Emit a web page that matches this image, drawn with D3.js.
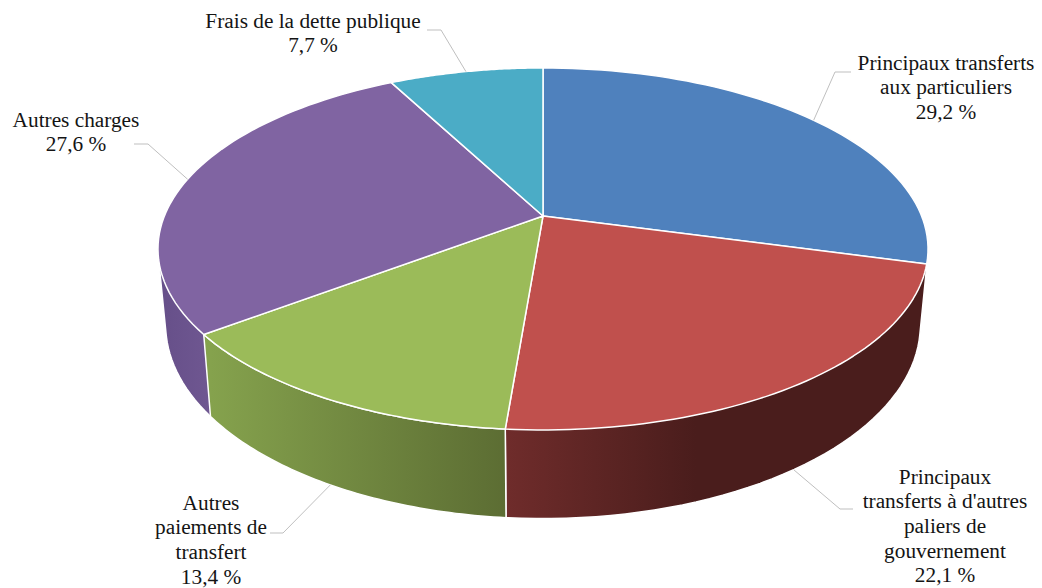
<!DOCTYPE html>
<html>
<head>
<meta charset="utf-8">
<script src="https://cdn.jsdelivr.net/npm/d3@7"></script>
<style>
  html, body { margin: 0; padding: 0; background: #fff; }
  svg { display: block; }
  text { font-family: "Liberation Serif", serif; font-size: 21.3px; fill: #141414; text-anchor: middle; }
</style>
</head>
<body>
<svg id="chart" width="1042" height="588"></svg>
<script>
// clockwise from 12 o'clock, same order as the source chart
var categories = [
  ["Principaux transferts", "aux particuliers"],
  ["Principaux", "transferts à d'autres", "paliers de", "gouvernement"],
  ["Autres", "paiements de", "transfert"],
  ["Autres charges"],
  ["Frais de la dette publique"]
];
var shares = [29.2, 22.1, 13.4, 27.6, 7.7];
var valueLabels = ["29,2 %", "22,1 %", "13,4 %", "27,6 %", "7,7 %"];
var colors = ["#4f81bd", "#c0504d", "#9bbb59", "#8064a2", "#4bacc6"];
var sideColors = [null, ["#6f2c2b", "#4a1d1c"], ["#85a24d", "#5c6d33"], ["#67508a", "#705892"], null];

var cx = 543, cy = 216;       // apex of the pie
var rimA = 378.6, rimB = 175; // circle radii before the perspective divide
var tilt = 0.182;             // perspective strength

// label centre x, first line centre y, leader elbow and end
var labelPos = [
  { x: 946, y: 63, elbow: [835, 72], end: [851, 72] },
  { x: 945, y: 477, elbow: [840, 509], end: [853, 509] },
  { x: 211, y: 503, elbow: [283, 533], end: [270, 533] },
  { x: 76, y: 120, elbow: [148, 144], end: [134, 144] },
  { x: 313, y: 21, elbow: [441, 30], end: [427, 30] }
];
var lineHeight = 24.6;

var svg = d3.select("#chart");
var defs = svg.append("defs");

var pie = d3.pie().sort(null).value(function (d) { return d; });
var arcs = pie(shares);

function topPoint(a) {
  var u = Math.sin(a), v = Math.cos(a);
  var d = 1 + tilt * v;
  return [cx + rimA * u / d, cy - rimB * v / d];
}

// lower rim: a bit narrower, a bit deeper than the top one
function lowPoint(a) {
  var p = topPoint(a);
  return [cx + (p[0] - cx) * 0.98, 325 + (p[1] - 249) * 1.07];
}

function sweep(a0, a1) {
  return d3.range(0, 61).map(function (i) {
    return a0 + (a1 - a0) * i / 60;
  });
}

var ringPath = d3.line().curve(d3.curveLinearClosed);

// sides first, top face is painted over whatever is hidden
// purple before green since its hull pokes under the green wall
var sideG = svg.append("g");
[3, 1, 2].forEach(function (i) {
  var d = arcs[i];
  var id = "side" + i;
  var a0 = d.startAngle;
  // the red wall also wraps the bit of rim that shows past the blue slice
  if (i === 1) a0 -= 0.6;
  var upper = sweep(a0, d.endAngle).map(topPoint);
  var low = sweep(a0, d.endAngle).map(lowPoint);
  var xs = low.map(function (p) { return p[0]; });

  // red and purple reach the silhouette, the hull gives the straight outer edge
  var outline = i === 2 ? upper.concat(low.reverse()) : d3.polygonHull(upper.concat(low));

  // red wall gets dark quickly and stays flat
  var x1 = d3.min(xs);
  var x2 = i === 1 ? x1 + 190 : (i === 3 ? x1 + 50 : d3.max(xs));
  var grad = defs.append("linearGradient")
    .attr("id", id)
    .attr("gradientUnits", "userSpaceOnUse")
    .attr("x1", x1).attr("y1", 0)
    .attr("x2", x2).attr("y2", 0);
  grad.append("stop").attr("offset", "0%").attr("stop-color", sideColors[i][0]);
  grad.append("stop").attr("offset", "100%").attr("stop-color", sideColors[i][1]);

  sideG.append("path")
    .attr("d", ringPath(outline))
    .attr("fill", "url(#" + id + ")")
    .attr("stroke", "#fff")
    .attr("stroke-width", 1.5)
    .attr("stroke-linejoin", "round");
});

// top face
var topG = svg.append("g");
arcs.forEach(function (d, i) {
  var pts = [[cx, cy]].concat(sweep(d.startAngle, d.endAngle).map(topPoint));
  topG.append("path")
    .attr("d", ringPath(pts))
    .attr("fill", colors[i])
    .attr("stroke", "#fff")
    .attr("stroke-width", 1.5)
    .attr("stroke-linejoin", "round");
});

// leaders start at the middle of each slice's visible rim
var leaderG = svg.append("g");
arcs.forEach(function (d, i) {
  var mid = (d.startAngle + d.endAngle) / 2;
  var start = (i === 1 || i === 2) ? lowPoint(mid) : topPoint(mid);
  leaderG.append("path")
    .attr("d", d3.line()([start, labelPos[i].elbow, labelPos[i].end]))
    .attr("fill", "none")
    .attr("stroke", "#bfbfbf")
    .attr("stroke-width", 1);
});

// labels
var labelG = svg.append("g");
categories.forEach(function (lines, i) {
  var rows = lines.concat([valueLabels[i]]);
  rows.forEach(function (row, j) {
    labelG.append("text")
      .attr("x", labelPos[i].x)
      .attr("y", labelPos[i].y + j * lineHeight)
      .attr("dy", ".32em")
      .text(row);
  });
});
</script>
</body>
</html>
